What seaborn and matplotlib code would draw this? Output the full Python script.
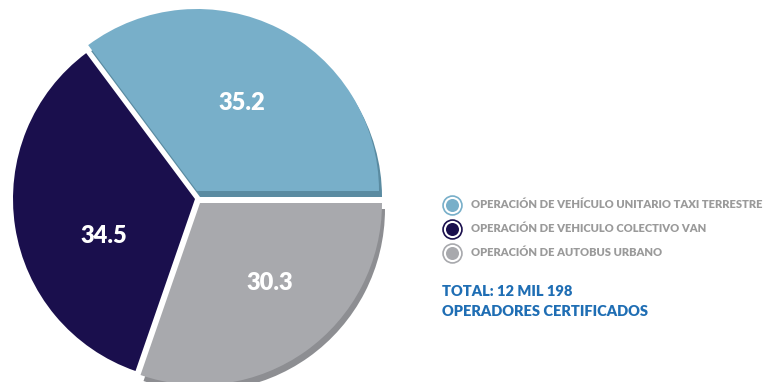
import matplotlib
matplotlib.use("Agg")
import matplotlib.pyplot as plt
import seaborn as sns

# Share of certified operators by licence type (%)
categories = [
    "OPERACIÓN DE VEHÍCULO UNITARIO TAXI TERRESTRE",
    "OPERACIÓN DE VEHICULO COLECTIVO VAN",
    "OPERACIÓN DE AUTOBUS URBANO",
]
shares = [35.2, 34.5, 30.3]
total_lines = ["TOTAL: 12 MIL 198", "OPERADORES CERTIFICADOS"]

face_colors = ["#78AFC9", "#1A0F4D", "#A8A9AD"]
shadow_colors = ["#5A8BA1", "none", "#8D8E92"]
legend_text_color = "#9A9A9A"
total_color = "#1F6EB4"

W, H = 763, 382
sns.set_theme(style="white")
plt.rcParams["font.family"] = ["Lato", "DejaVu Sans"]

fig = plt.figure(figsize=(W / 100, H / 100), dpi=100)
ax = fig.add_axes([0, 0, 1, 1])

# pie geometry in pixel units
center = (198, 183)
radius = 182
slice_shift = [(-1, 8), (-3, 0), (2, -4)]
shadow_shift = (3, -6)

# extruded "depth" layer under the slices
shadow, _ = ax.pie(
    shares, colors=shadow_colors, startangle=0, counterclock=True,
    radius=radius, center=(center[0] + shadow_shift[0], center[1] + shadow_shift[1]),
    wedgeprops=dict(linewidth=0),
)
wedges, _ = ax.pie(
    shares, colors=face_colors, startangle=0, counterclock=True,
    radius=radius, center=center, wedgeprops=dict(linewidth=0),
)
for group in (shadow, wedges):
    for w, (dx, dy) in zip(group, slice_shift):
        cx, cy = w.center
        w.set_center((cx + dx, cy + dy))

# value labels
label_pos = [(242, 279), (104, 146), (270, 99)]
for v, (x, y) in zip(shares, label_pos):
    ax.text(x, y, f"{v:.1f}", color="white", fontsize=17, fontweight="heavy",
            ha="center", va="center", zorder=6)

# legend
leg_x, leg_text_x = 452, 471
leg_ys = [177, 153, 129]
for name, col, y in zip(categories, face_colors, leg_ys):
    ax.scatter([leg_x], [y], s=185, facecolor="white", edgecolor=col,
               linewidth=1.2, zorder=5)
    ax.scatter([leg_x], [y], s=88, color=col, linewidth=0, zorder=6)
    ax.text(leg_text_x, y, name, color=legend_text_color, fontsize=8,
            fontweight="heavy", ha="left", va="center")

for line, y in zip(total_lines, [90, 70]):
    ax.text(442, y, line, color=total_color, fontsize=10.5, fontweight="heavy",
            ha="left", va="center")

ax.set_xlim(0, W)
ax.set_ylim(0, H)
ax.set_aspect("auto")
ax.axis("off")

fig.savefig("out.png", dpi=100, facecolor="white")
